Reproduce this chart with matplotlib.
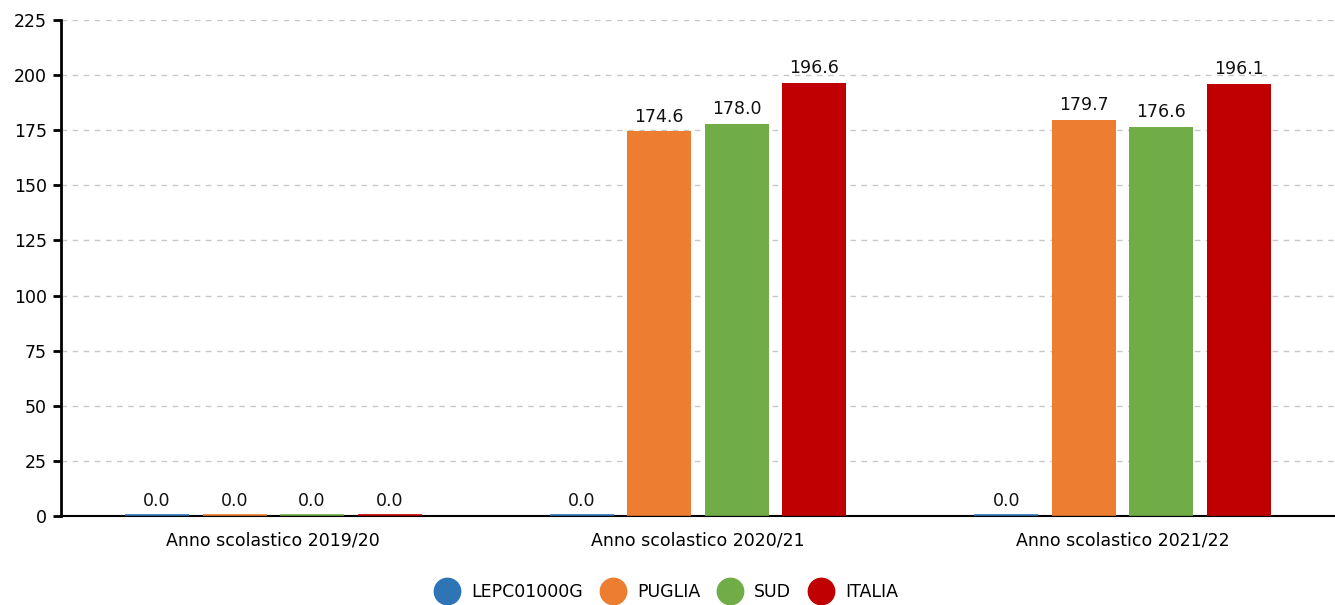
import matplotlib
matplotlib.use("Agg")
import matplotlib.pyplot as plt
import numpy as np

categories = ["Anno scolastico 2019/20", "Anno scolastico 2020/21", "Anno scolastico 2021/22"]
series_names = ["LEPC01000G", "PUGLIA", "SUD", "ITALIA"]
series_values = [
    [0.0, 0.0, 0.0],
    [0.0, 174.6, 179.7],
    [0.0, 178.0, 176.6],
    [0.0, 196.6, 196.1],
]
colors = ["#2E75B6", "#ED7D31", "#70AD47", "#C00000"]
yticks = [0, 25, 50, 75, 100, 125, 150, 175, 200, 225]

plt.rcParams['font.family'] = ['DejaVu Sans']
fig = plt.figure(figsize=(13.35, 6.05), dpi=100)
ax = fig.add_axes([61/1335, 1-516/605, 1-61/1335, (516-20)/605])

x = np.arange(len(categories))
spacing = 0.1825
width = 0.151
n = len(series_names)
fs = 12.5
for i, (name, vals, c) in enumerate(zip(series_names, series_values, colors)):
    pos = x + (i - (n-1)/2) * spacing
    ax.bar(pos, vals, width=width, color=c, edgecolor=c, linewidth=0, zorder=3, label=name)
    # thin zero-level strip so zero-height bars remain visible
    ax.hlines([0.5] * len(pos), pos - width/2, pos + width/2, colors=c,
              linewidth=1.2, zorder=6)
    for p, v in zip(pos, vals):
        ax.annotate(f"{v:.1f}", (p, v), xytext=(0, 4), textcoords="offset points",
                    ha="center", va="bottom", fontsize=fs, color="#111111", zorder=7)

ax.set_xlim(-0.5, len(categories)-0.5)
ax.set_ylim(0, 225)
ax.set_yticks(yticks)
ax.set_xticks(x)
ax.set_xticklabels(categories, fontsize=fs)
ax.tick_params(axis='x', length=0, pad=11)
ax.tick_params(axis='y', labelsize=fs, length=6, width=2, direction='out', pad=4)
ax.grid(axis='y', linestyle=(0, (4, 4)), color='#c8c8c8', linewidth=1, zorder=0)
for s in ['top', 'right']:
    ax.spines[s].set_visible(False)
ax.spines['left'].set_linewidth(2)
ax.spines['bottom'].set_linewidth(1.5)
ax.spines['left'].set_zorder(5)
ax.spines['bottom'].set_zorder(5)

handles = [plt.Line2D([], [], marker='o', linestyle='none', markersize=19,
                      markerfacecolor=c, markeredgecolor=c) for c in colors]
fig.legend(handles, series_names, loc='center', bbox_to_anchor=(0.5, 1-592/605),
           ncol=4, frameon=False, fontsize=fs, handletextpad=0.8, columnspacing=1.1,
           handlelength=1.2)

fig.savefig("out.png", dpi=100)
